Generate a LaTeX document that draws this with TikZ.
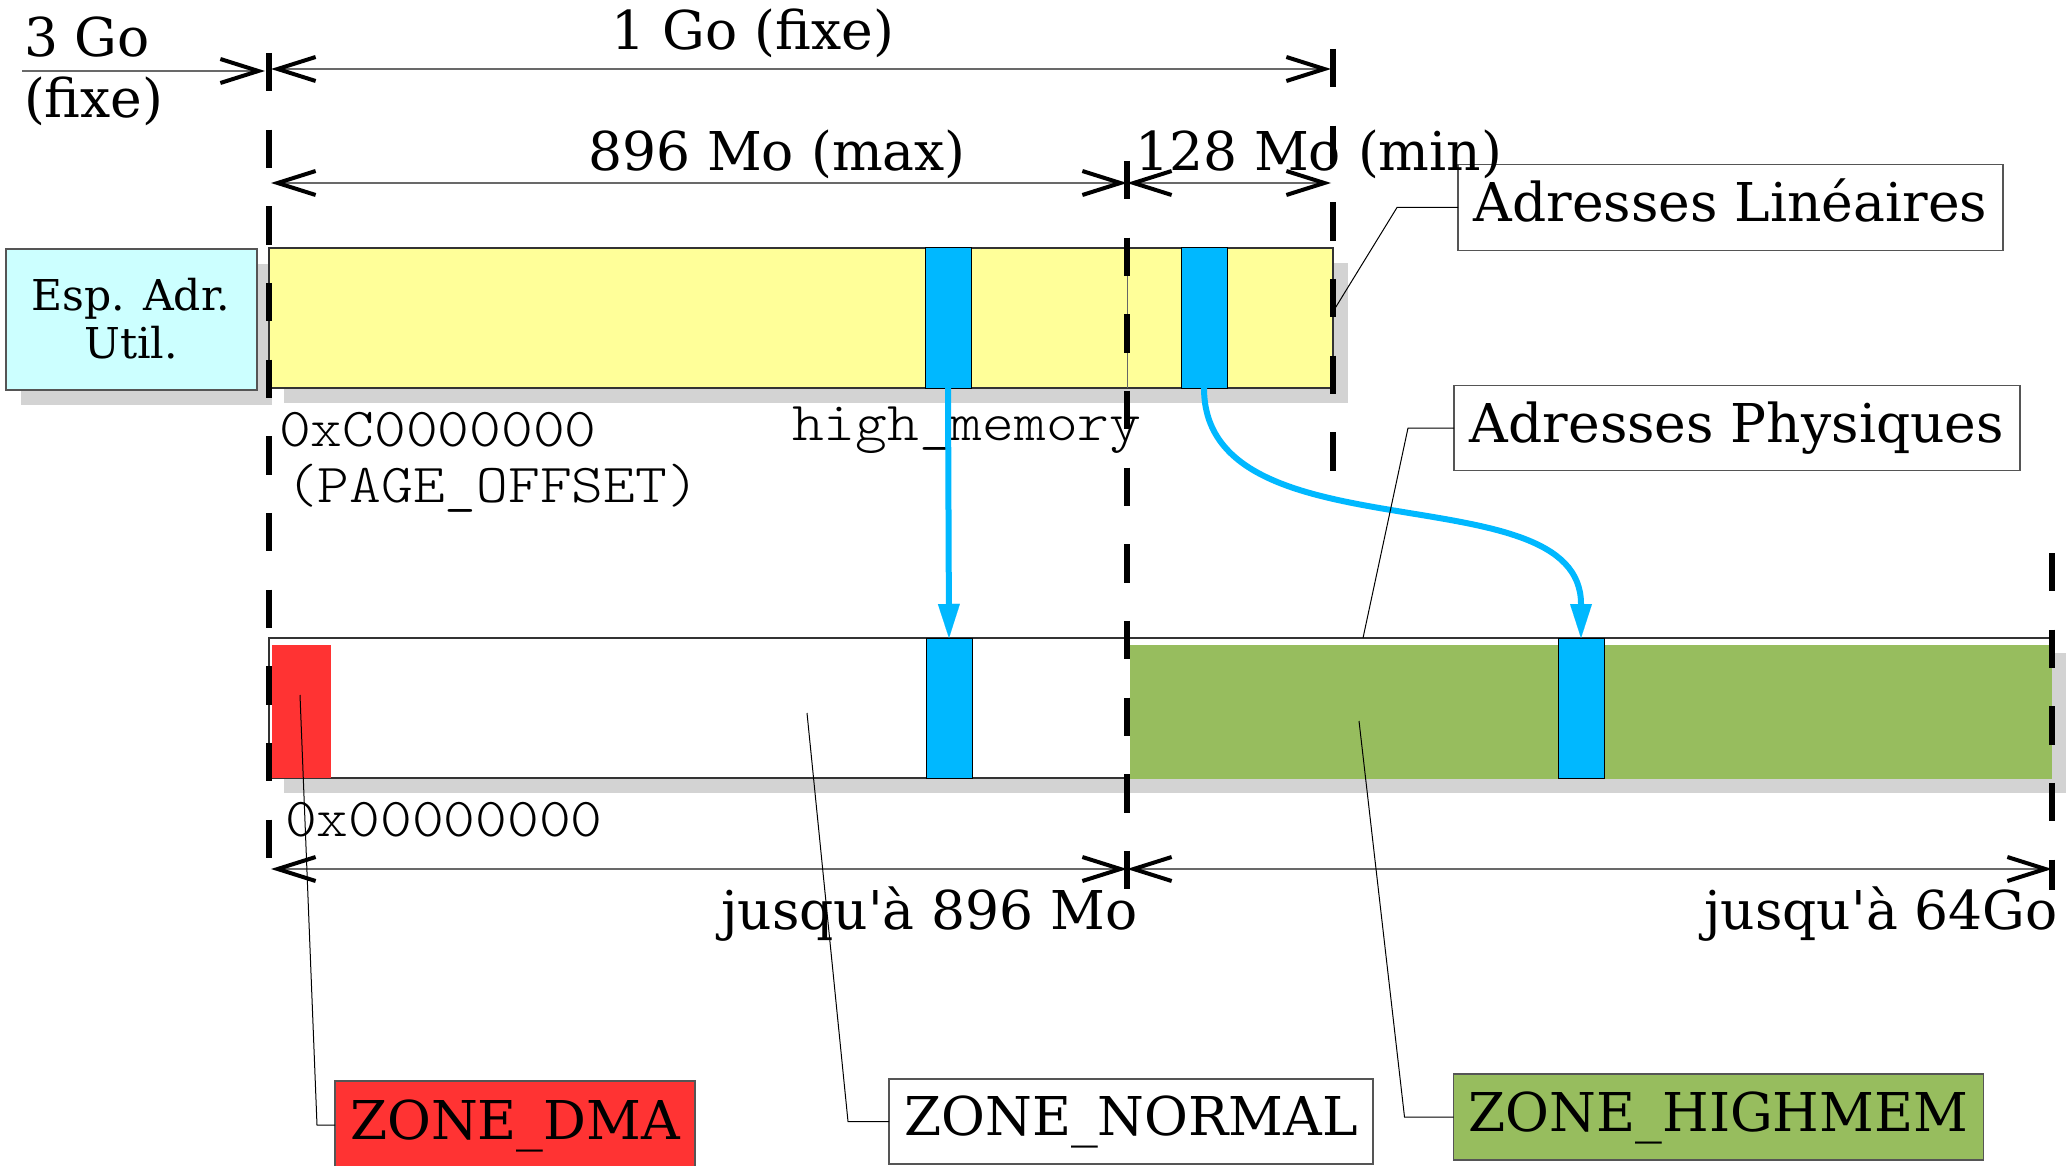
\documentclass[tikz,border=0pt]{standalone}
\usepackage{fontspec}
\setmainfont{DejaVu Serif}[Ligatures=TeXOff]
\setmonofont{lmmonolt10-regular.otf}[Ligatures=TeXOff, FakeStretch=1.1]
\usetikzlibrary{arrows.meta,shadows}

\definecolor{barYellow}{RGB}{255,255,153}
\definecolor{espCyan}{RGB}{204,255,255}
\definecolor{pageBlue}{RGB}{0,184,255}
\definecolor{zoneRed}{RGB}{255,51,51}
\definecolor{zoneGreen}{RGB}{151,189,94}
\definecolor{shadowGray}{RGB}{211,211,211}
\definecolor{dimGray}{RGB}{105,105,105}
\definecolor{frameGray}{RGB}{85,85,85}

\newcommand\mainsize{\fontsize{53.5pt}{61pt}\selectfont}
\newcommand\espsize{\fontsize{42.5pt}{48pt}\selectfont}
\newcommand\monosize{\fontsize{55pt}{60pt}\selectfont\ttfamily}

\tikzset{
  barrect/.style={rectangle, inner sep=0pt, outer sep=0pt, anchor=north west},
  barshadow/.style={drop shadow={shadow xshift=15pt, shadow yshift=-15pt,
                    fill=shadowGray, opacity=1}},
  pagebox/.style={barrect, fill=pageBlue, draw=black, line width=1pt},
  guide/.style={line width=6pt, dash pattern=on 38.33pt off 38.33pt},
  dimtip/.tip={Straight Barb[length=38pt, width=24pt, line width=4pt, color=black]},
  dimline/.style={draw=dimGray, line width=1.5pt},
  maparrow/.style={draw=pageBlue, line width=6pt,
                   -{Triangle[length=34pt, width=22pt, line width=0.01pt]}},
  leader/.style={draw=black, line width=1pt},
  callout/.style={rectangle, draw=frameGray, line width=1.5pt, inner sep=0pt,
                  outer sep=0pt, text height=40pt, text depth=12pt},
  lbl/.style={inner sep=0pt, outer sep=0pt},
}

\begin{document}
\begin{tikzpicture}[x=1pt, y=-1pt, font=\mainsize]
\useasboundingbox (0,0) rectangle (2071,1166);

% ---- bars -------------------------------------------------------------
\node[barrect, barshadow, fill=espCyan, draw=frameGray, line width=1.5pt,
      minimum width=251pt, minimum height=141pt] (esp) at (6,249) {};
\node[barrect, barshadow, fill=barYellow, draw=black!80, line width=1.5pt,
      minimum width=1064pt, minimum height=140pt] (lin) at (269,248) {};
\draw[black!60, line width=1pt] (1127,248) -- (1127,388);
\node[pagebox, minimum width=46pt, minimum height=140pt] (hi1) at (925,248) {};
\node[pagebox, minimum width=46pt, minimum height=140pt] (hi2) at (1181,248) {};

\node[barrect, barshadow, fill=white, draw=black!80, line width=1.5pt,
      minimum width=1782pt, minimum height=140pt] (phys) at (269,638) {};
\node[barrect, fill=zoneRed, minimum width=59pt, minimum height=133pt] (dmaFill) at (272,645) {};
\node[barrect, fill=zoneGreen, minimum width=922pt, minimum height=134pt] (highFill) at (1130,645) {};
\node[pagebox, minimum width=46pt, minimum height=140pt] (lo1) at (926,638) {};
\node[pagebox, minimum width=46pt, minimum height=140pt] (lo2) at (1558,638) {};

% ---- callouts ---------------------------------------------------------
\node[callout, fill=white, minimum width=545pt, minimum height=86pt] (aLin) at (1730.5,207.5) {Adresses Linéaires};
\node[callout, fill=white, minimum width=566pt, minimum height=85pt] (aPhys) at (1737,428) {Adresses Physiques};
\node[callout, fill=zoneRed, minimum width=360pt, minimum height=88pt] (zDma) at (515,1125) {ZONE\_DMA};
\node[callout, fill=white, minimum width=484pt, minimum height=85pt] (zNorm) at (1131,1121.5) {ZONE\_NORMAL};
\node[callout, fill=zoneGreen, minimum width=530pt, minimum height=86pt] (zHigh) at (1718.5,1117) {ZONE\_HIGHMEM};

% ---- labels -----------------------------------------------------------
\node[lbl, anchor=base, font=\espsize] (espA) at (131,310) {Esp. Adr.};
\node[lbl, anchor=base, font=\espsize] (espB) at (131,358) {Util.};

\node[lbl, anchor=base west] (t3go) at (24,57) {3 Go};
\node[lbl, anchor=base west] (t3fixe) at (24,118) {(fixe)};
\node[lbl, anchor=base] (t1go) at (753,50) {1 Go (fixe)};
\node[lbl, anchor=base] (t896) at (777,171) {896 Mo (max)};
\node[lbl, anchor=base west] (t128) at (1135,171) {128 Mo (min)};

\node[lbl, anchor=base west, font=\monosize] (tOff) at (279,446) {0xC0000000};
\node[lbl, anchor=base west, font=\monosize] (tOffName) at (286,502) {(PAGE\_OFFSET)};
\node[lbl, anchor=base west, font=\monosize] (tHigh) at (792,440) {high\_memory};
\node[lbl, anchor=base west, font=\monosize] (tZero) at (285,836) {0x00000000};

\node[lbl, anchor=base east] (tLow) at (1138,929) {jusqu'à 896 Mo};
\node[lbl, anchor=base east] (tTop) at (2058,929) {jusqu'à 64Go};

% ---- boundary guides --------------------------------------------------
\coordinate (gA1) at (269,53);   \coordinate (gA2) at (269,858);
\coordinate (gB1) at (1127,161); \coordinate (gB2) at (1127,890);
\coordinate (gC1) at (1333,49);  \coordinate (gC2) at (1333,472);
\coordinate (gD1) at (2052,553); \coordinate (gD2) at (2052,890);
\draw[guide] (gA1) -- (gA2);
\draw[guide] (gB1) -- (gB2);
\draw[guide] (gC1) -- (gC2);
\draw[guide] (gD1) -- (gD2);

% ---- size arrows ------------------------------------------------------
\coordinate (d3a) at (22,71);     \coordinate (d3b) at (265,71);
\coordinate (d1a) at (271,69);    \coordinate (d1b) at (1331,69);
\coordinate (dMa) at (271,183);   \coordinate (dMm) at (1127,183);
\coordinate (dMb) at (1331,183);
\coordinate (dLa) at (271,869);   \coordinate (dLm) at (1127,869);
\coordinate (dLb) at (2052,869);
\draw[dimline, -dimtip] (d3a) -- (d3b);
\draw[dimline, dimtip-dimtip] (d1a) -- (d1b);
\draw[dimline, dimtip-dimtip] (dMa) -- (dMm);
\draw[dimline, dimtip-dimtip] (dMm) -- (dMb);
\draw[dimline, dimtip-dimtip] (dLa) -- (dLm);
\draw[dimline, dimtip-dimtip] (dLm) -- (dLb);

% ---- page mapping -----------------------------------------------------
\draw[maparrow] (hi1.south) -- (lo1.north);
\draw[maparrow] (hi2.south) .. controls +(0,172) and +(0,-168) .. (lo2.north);

% ---- callout leaders --------------------------------------------------
\coordinate (linEnd) at (1334,310);
\coordinate (physEnd) at (1363,638);
\coordinate (dmaEnd) at (300,695);
\coordinate (normEnd) at (807,713);
\coordinate (highEnd) at (1359,721);
\draw[leader] (aLin.west) -- ++(-61,0) -- (linEnd);
\draw[leader] (aPhys.west) -- ++(-46,0) -- (physEnd);
\draw[leader] (zDma.west) -- ++(-18,0) -- (dmaEnd);
\draw[leader] (zNorm.west) -- ++(-41,0) -- (normEnd);
\draw[leader] (zHigh.west) -- ++(-49,0) -- (highEnd);
\end{tikzpicture}
\end{document}
